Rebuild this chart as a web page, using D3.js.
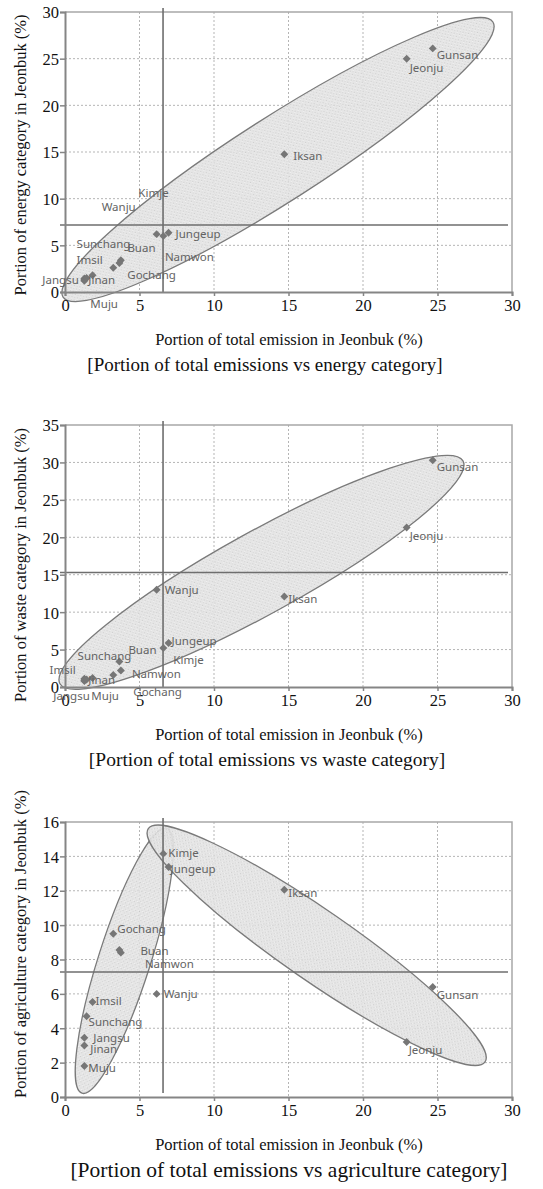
<!DOCTYPE html>
<html>
<head>
<meta charset="utf-8">
<script src="https://cdn.jsdelivr.net/npm/d3@7"></script>
<style>
  body { margin: 0; background: #fff; }
  svg { display: block; }
  .tick text { font-family: "Liberation Serif", serif; font-size: 16.5px; fill: #111; }
</style>
</head>
<body>
<svg id="chart" width="543" height="1189"></svg>
<script>
// regions of Jeonbuk
var regions = ["Jeonju", "Gunsan", "Iksan", "Jungeup", "Namwon", "Kimje", "Wanju",
               "Jinan", "Muju", "Jangsu", "Imsil", "Sunchang", "Gochang", "Buan"];

// portion of total emission (%)
var totalShare = [22.93, 24.68, 14.72, 6.95, 3.75, 6.6, 6.15, 1.3, 1.3, 1.3, 1.85, 1.45, 3.24, 3.65];
// portion of each category (%)
var energyShare = [25.0, 26.1, 14.75, 6.35, 3.4, 6.0, 6.2, 1.45, 1.2, 1.3, 1.8, 1.5, 2.6, 3.1];
var wasteShare  = [21.3, 30.3, 12.1, 5.87, 2.2, 5.2, 13.0, 1.1, 0.8, 0.9, 1.2, 1.0, 1.6, 3.4];
var agriShare   = [3.2, 6.4, 12.06, 13.38, 8.4, 14.16, 6.0, 3.0, 1.8, 3.45, 5.53, 4.7, 9.5, 8.55];

var xTicks = [0, 5, 10, 15, 20, 25, 30];
var energyTicks = [0, 5, 10, 15, 20, 25, 30];
var wasteTicks = [0, 5, 10, 15, 20, 25, 30, 35];
var agriTicks = [0, 2, 4, 6, 8, 10, 12, 14, 16];

// mean lines (%)
var meanTotal = 6.58;
var meanEnergy = 7.18;
var meanWaste = 15.3;
var meanAgri = 7.27;

// cluster ellipses: major axis tips in data units
var energyEllipses = [[[-0.13, -0.54], [28.72, 28.93]]];
var wasteEllipses = [[[-0.34, 0.44], [26.71, 30.2]]];
var agriEllipses = [[[6.82, 15.63], [1.14, 0.22]], [[5.59, 15.61], [28.19, 2.04]]];

var svg = d3.select("#chart");

// stipple fill for ellipses
var pat = svg.append("defs").append("pattern")
    .attr("id", "stipple").attr("width", 4).attr("height", 4)
    .attr("patternUnits", "userSpaceOnUse");
pat.append("rect").attr("width", 4).attr("height", 4).attr("fill", "#e3e3e3");
pat.append("rect").attr("x", 0).attr("y", 0).attr("width", 1).attr("height", 1).attr("fill", "#c9c9c9");
pat.append("rect").attr("x", 2).attr("y", 2).attr("width", 1).attr("height", 1).attr("fill", "#d2d2d2");
pat.append("rect").attr("x", 3).attr("y", 1).attr("width", 1).attr("height", 1).attr("fill", "#f0f0f0");

var x = d3.scaleLinear().domain([0, 30]).range([65, 512]);

var panels = [
  { yVals: energyShare, ticks: energyTicks, max: 30, top: 12, bottom: 292, mean: meanEnergy,
    ellipses: energyEllipses, widths: [42],
    yTitle: "Portion of energy category in Jeonbuk (%)", yTitleMid: 155,
    caption: "[Portion of total emissions vs energy category]", capX: 265, capSize: 19,
    offsets: { Jeonju: [3, 13], Gunsan: [4, 11], Iksan: [9, 6], Jungeup: [7, 5], Namwon: [44, 1],
      Kimje: [-25, -39], Wanju: [-55, -23], Jinan: [4, 6], Muju: [6, 27], Jangsu: [-42, 4],
      Imsil: [-16, -11], Sunchang: [-10, -30], Gochang: [14, 11], Buan: [8, -11] } },
  { yVals: wasteShare, ticks: wasteTicks, max: 35, top: 425, bottom: 687, mean: meanWaste,
    ellipses: wasteEllipses, widths: [41],
    yTitle: "Portion of waste category in Jeonbuk (%)", yTitleMid: 565,
    caption: "[Portion of total emissions vs waste category]", capX: 267, capSize: 19.5,
    offsets: { Jeonju: [3, 12], Gunsan: [4, 11], Iksan: [4, 7], Jungeup: [3, 2], Namwon: [11, 7],
      Kimje: [10, 16], Wanju: [8, 4], Jinan: [4, 5], Muju: [7, 19], Jangsu: [-31, 20],
      Imsil: [-43, -4], Sunchang: [-9, -20], Gochang: [20, 21], Buan: [9, -8] } },
  { yVals: agriShare, ticks: agriTicks, max: 16, top: 822, bottom: 1097, mean: meanAgri,
    ellipses: agriEllipses, widths: [26, 35],
    yTitle: "Portion of agriculture category in Jeonbuk (%)", yTitleMid: 944,
    caption: "[Portion of total emissions vs agriculture category]", capX: 289, capSize: 21.5,
    offsets: { Jeonju: [2, 12], Gunsan: [4, 12], Iksan: [4, 7], Jungeup: [2, 6], Namwon: [24, 15],
      Kimje: [5, 3], Wanju: [7, 4], Jinan: [6, 8], Muju: [4, 6], Jangsu: [9, 4],
      Imsil: [3, 3], Sunchang: [2, 10], Gochang: [4, -1], Buan: [21, 5] } }
];

panels.forEach(function(p) {
  var y = d3.scaleLinear().domain([0, p.max]).range([p.bottom, p.top]);
  var g = svg.append("g");

  // grid
  g.selectAll(".vgrid").data(xTicks.slice(1, -1)).enter().append("line")
    .attr("x1", d => x(d)).attr("x2", d => x(d))
    .attr("y1", p.top).attr("y2", p.bottom)
    .attr("stroke", "#b5b5b5").attr("stroke-dasharray", "2,2");
  g.selectAll(".hgrid").data(p.ticks.slice(1, -1)).enter().append("line")
    .attr("x1", x(0)).attr("x2", x(30))
    .attr("y1", d => y(d)).attr("y2", d => y(d))
    .attr("stroke", "#b5b5b5").attr("stroke-dasharray", "2,2");

  // frame top / right
  g.append("path")
    .attr("d", "M" + x(0) + "," + p.top + "H" + x(30) + "V" + p.bottom)
    .attr("fill", "none").attr("stroke", "#a8a8a8").attr("stroke-width", 1.5);

  // ellipses
  p.ellipses.forEach(function(e, i) {
    var x1 = x(e[0][0]), y1 = y(e[0][1]), x2 = x(e[1][0]), y2 = y(e[1][1]);
    var cx = (x1 + x2) / 2, cy = (y1 + y2) / 2;
    var rx = Math.hypot(x2 - x1, y2 - y1) / 2;
    var ang = Math.atan2(y2 - y1, x2 - x1) * 180 / Math.PI;
    g.append("ellipse")
      .attr("cx", 0).attr("cy", 0).attr("rx", rx).attr("ry", p.widths[i])
      .attr("transform", "translate(" + cx + "," + cy + ") rotate(" + ang + ")")
      .attr("fill", "url(#stipple)").attr("fill-opacity", 0.9)
      .attr("stroke", "#7a7a7a").attr("stroke-width", 1.3);
  });

  // mean lines
  g.append("line")
    .attr("x1", x(meanTotal)).attr("x2", x(meanTotal))
    .attr("y1", p.top - 4).attr("y2", p.bottom - (p.max === 16 ? 4 : 0))
    .attr("stroke", "#6e6e6e").attr("stroke-width", 1.6);
  g.append("line")
    .attr("x1", x(0) - 5).attr("x2", x(30) - 4)
    .attr("y1", y(p.mean)).attr("y2", y(p.mean))
    .attr("stroke", "#6e6e6e").attr("stroke-width", 1.6);

  // axes
  var ax = g.append("g").attr("transform", "translate(0," + p.bottom + ")")
    .call(d3.axisBottom(x).tickValues(xTicks).tickSize(4).tickPadding(3));
  var ay = g.append("g").attr("transform", "translate(" + x(0) + ",0)")
    .call(d3.axisLeft(y).tickValues(p.ticks).tickSize(5).tickPadding(1));
  [ax, ay].forEach(function(a) {
    a.select(".domain").attr("stroke", "#858585").attr("stroke-width", 2);
    a.selectAll(".tick line").attr("stroke", "#858585").attr("stroke-width", 1.5);
  });
  ay.selectAll(".tick text").attr("dy", "0.36em");

  // points
  var pts = regions.map(function(r, i) { return { name: r, x: totalShare[i], y: p.yVals[i] }; });
  g.selectAll(".pt").data(pts).enter().append("path")
    .attr("d", d3.symbol().type(d3.symbolDiamond2).size(40))
    .attr("transform", d => "translate(" + x(d.x) + "," + y(d.y) + ")")
    .attr("fill", "#767676");
  g.selectAll(".lbl").data(pts).enter().append("text")
    .attr("x", d => x(d.x) + p.offsets[d.name][0])
    .attr("y", d => y(d.y) + p.offsets[d.name][1])
    .attr("font-family", "Noto Sans, sans-serif").attr("font-size", 11.5)
    .attr("fill", "#636363")
    .text(d => d.name);

  // titles
  g.append("text")
    .attr("transform", "translate(20," + p.yTitleMid + ") rotate(-90)")
    .attr("text-anchor", "middle").attr("dy", "0.35em")
    .attr("font-family", "Liberation Serif, serif").attr("font-size", 16.5)
    .attr("fill", "#111")
    .text(p.yTitle);
  g.append("text")
    .attr("x", 289).attr("y", p.bottom + 47)
    .attr("text-anchor", "middle").attr("dy", "0.35em")
    .attr("font-family", "Liberation Serif, serif").attr("font-size", 16.5)
    .attr("fill", "#111")
    .text("Portion of total emission in Jeonbuk (%)");
  g.append("text")
    .attr("x", p.capX).attr("y", p.bottom + 72)
    .attr("text-anchor", "middle").attr("dy", "0.35em")
    .attr("font-family", "Liberation Serif, serif").attr("font-size", p.capSize)
    .attr("fill", "#111")
    .text(p.caption);
});
</script>
</body>
</html>
